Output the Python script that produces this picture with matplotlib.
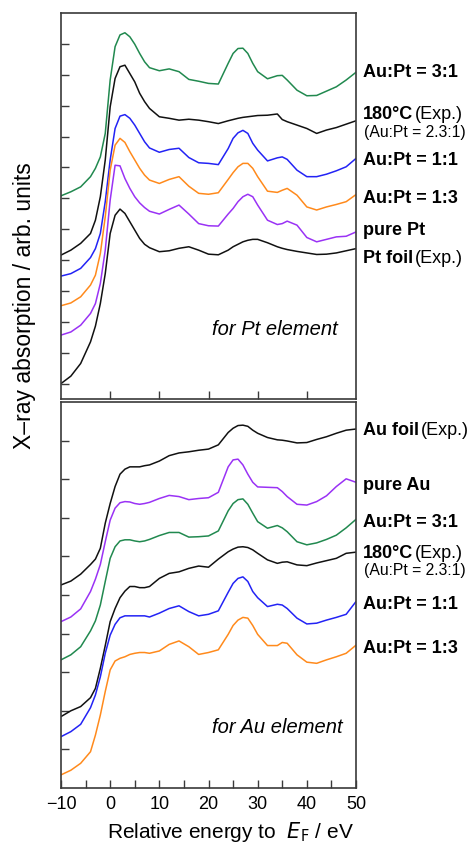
import matplotlib
matplotlib.use('Agg')
import matplotlib.pyplot as plt
from matplotlib.text import Annotation
from matplotlib.ticker import MultipleLocator, NullFormatter

plt.rcParams['font.family'] = ['Liberation Sans', 'DejaVu Sans']
plt.rcParams['axes.unicode_minus'] = True

# relative energy (eV), shared by every spectrum
energy = [-10, -8, -6, -4, -3, -2, -1, 0, 1, 2, 3, 4, 5, 6, 7, 8, 10, 12, 14, 16, 18,
          20, 22, 24, 25, 26, 27, 28, 29, 30, 32, 34, 35, 36, 38, 40, 42, 44, 46, 48, 50]

# Pt element (offset stacked, arb. units)
pt_31 = [6.08, 6.21, 6.37, 6.70, 6.97, 7.34, 8.10, 9.83, 10.91, 11.29, 11.36, 11.23, 10.99, 10.69,
         10.42, 10.23, 10.13, 10.19, 10.10, 9.85, 9.79, 9.72, 9.70, 10.37, 10.69, 10.85, 10.86,
         10.69, 10.37, 10.10, 9.87, 9.97, 9.98, 9.83, 9.50, 9.32, 9.33, 9.47, 9.61, 9.83, 10.08]
pt_exp = [4.16, 4.32, 4.54, 4.86, 5.29, 6.05, 7.24, 8.96, 9.88, 10.26, 10.31, 10.04, 9.77, 9.40,
          9.13, 8.91, 8.64, 8.59, 8.53, 8.56, 8.53, 8.48, 8.42, 8.51, 8.55, 8.59, 8.62, 8.64,
          8.66, 8.68, 8.69, 8.73, 8.55, 8.48, 8.37, 8.26, 8.10, 8.21, 8.29, 8.40, 8.51]
pt_11 = [3.48, 3.56, 3.73, 4.08, 4.37, 4.86, 5.89, 7.24, 8.26, 8.66, 8.71, 8.59, 8.37, 8.10, 7.83,
         7.63, 7.49, 7.58, 7.62, 7.32, 7.15, 7.13, 7.09, 7.61, 7.94, 8.12, 8.20, 8.10, 7.78, 7.56,
         7.21, 7.31, 7.34, 7.26, 6.91, 6.70, 6.70, 6.78, 6.89, 7.02, 7.29]
pt_13 = [2.52, 2.61, 2.81, 3.19, 3.51, 4.21, 5.40, 6.91, 7.72, 7.94, 7.81, 7.51, 7.24, 6.97, 6.75,
         6.59, 6.48, 6.61, 6.70, 6.39, 6.16, 6.13, 6.18, 6.61, 6.83, 7.02, 7.13, 7.13, 6.97, 6.70,
         6.23, 6.19, 6.26, 6.32, 6.10, 5.72, 5.62, 5.72, 5.80, 5.89, 6.12]
pt_pure = [1.57, 1.67, 1.89, 2.27, 2.59, 3.24, 4.32, 5.94, 7.07, 7.05, 6.64, 6.32, 6.05, 5.85, 5.70,
           5.58, 5.49, 5.64, 5.78, 5.49, 5.18, 5.11, 5.10, 5.49, 5.67, 5.89, 6.05, 6.13, 6.05, 5.78,
           5.29, 5.15, 5.18, 5.26, 5.13, 4.73, 4.59, 4.67, 4.75, 4.77, 4.91]
pt_foil = [0.00, 0.24, 0.65, 1.35, 1.86, 2.59, 3.56, 4.86, 5.45, 5.65, 5.51, 5.24, 4.97, 4.70, 4.51,
           4.40, 4.27, 4.30, 4.38, 4.43, 4.32, 4.19, 4.17, 4.32, 4.43, 4.51, 4.59, 4.64, 4.67, 4.67,
           4.56, 4.43, 4.38, 4.34, 4.28, 4.23, 4.18, 4.19, 4.23, 4.30, 4.37]

# Au element
au_foil = [5.26, 5.36, 5.54, 5.79, 5.93, 6.21, 6.86, 7.37, 7.81, 8.13, 8.26, 8.32, 8.32, 8.32, 8.35,
           8.37, 8.47, 8.61, 8.68, 8.71, 8.75, 8.78, 8.89, 9.21, 9.32, 9.39, 9.40, 9.37, 9.27, 9.19,
           9.08, 9.02, 9.01, 8.99, 8.94, 8.95, 9.03, 9.10, 9.19, 9.27, 9.30]
au_pure = [4.31, 4.43, 4.64, 5.09, 5.41, 5.79, 6.38, 6.94, 7.25, 7.39, 7.42, 7.41, 7.37, 7.35, 7.37,
           7.40, 7.50, 7.58, 7.55, 7.47, 7.50, 7.52, 7.66, 8.32, 8.50, 8.52, 8.37, 8.13, 7.92, 7.80,
           7.79, 7.78, 7.68, 7.55, 7.35, 7.33, 7.42, 7.57, 7.81, 8.01, 7.92]
au_31 = [3.32, 3.45, 3.66, 4.07, 4.33, 4.74, 5.35, 5.95, 6.25, 6.40, 6.43, 6.43, 6.40, 6.38, 6.40,
         6.44, 6.54, 6.62, 6.62, 6.50, 6.51, 6.53, 6.66, 7.18, 7.37, 7.47, 7.49, 7.35, 7.12, 6.90,
         6.73, 6.80, 6.74, 6.64, 6.38, 6.30, 6.35, 6.44, 6.55, 6.74, 6.96]
au_exp = [1.85, 2.00, 2.11, 2.34, 2.58, 3.10, 3.69, 4.31, 4.65, 4.93, 5.10, 5.22, 5.22, 5.19, 5.19,
          5.22, 5.43, 5.56, 5.60, 5.69, 5.75, 5.72, 5.93, 6.12, 6.19, 6.24, 6.25, 6.23, 6.17, 6.08,
          5.91, 5.82, 5.85, 5.86, 5.78, 5.76, 5.83, 5.89, 5.95, 6.08, 6.11]
au_11 = [1.33, 1.46, 1.65, 2.08, 2.41, 2.88, 3.49, 3.96, 4.24, 4.41, 4.46, 4.46, 4.46, 4.46, 4.46,
         4.43, 4.53, 4.65, 4.72, 4.57, 4.46, 4.50, 4.59, 5.07, 5.30, 5.43, 5.47, 5.35, 5.09, 4.93,
         4.70, 4.76, 4.74, 4.65, 4.40, 4.25, 4.27, 4.35, 4.42, 4.50, 4.83]
au_13 = [0.34, 0.46, 0.64, 0.94, 1.37, 1.89, 2.50, 3.06, 3.29, 3.36, 3.40, 3.46, 3.49, 3.51, 3.51,
         3.49, 3.55, 3.72, 3.81, 3.66, 3.46, 3.51, 3.58, 3.98, 4.21, 4.35, 4.42, 4.40, 4.21, 3.98,
         3.69, 3.69, 3.77, 3.75, 3.45, 3.26, 3.23, 3.32, 3.40, 3.49, 3.70]

GREEN = '#21894f'
BLUE = '#2323f5'
ORANGE = '#ff8a1c'
PURPLE = '#9a32f5'
BLACK = '#111111'
FRAME = '#3a3a3a'

W, H = 470, 844


def fx(px):
    return px / W


def fy(py):
    return 1 - py / H


def setup_axes(ax, ylim, yticks, bottom=False):
    ax.set_xlim(-10, 50)
    ax.set_ylim(*ylim)
    ax.set_yticks(yticks)
    ax.yaxis.set_major_formatter(NullFormatter())
    ax.xaxis.set_major_locator(MultipleLocator(10))
    for s in ax.spines.values():
        s.set_color(FRAME)
        s.set_linewidth(1.2)
    ax.tick_params(direction='in', length=5.5, width=1.0, color=FRAME,
                   top=False, right=False, labelsize=13, pad=6)
    if bottom:
        ax.xaxis.set_minor_locator(MultipleLocator(5))
        ax.tick_params(axis='x', which='minor', direction='in', length=5.5, width=1.0,
                       color=FRAME, top=False)
    else:
        ax.tick_params(axis='x', labelbottom=False)
        ax.set_xticks([0, 10, 20, 30, 40])


def add_label(fig, y, bold, normal=None, sub=None):
    t = fig.text(fx(363), fy(y), bold, fontsize=13, fontweight='bold', va='baseline', ha='left')
    if normal:
        fig.add_artist(Annotation(normal, xy=(1, 0), xycoords=t, xytext=(1.5, 0),
                                  textcoords='offset points', fontsize=13, va='bottom',
                                  ha='left'))
    if sub:
        fig.text(fx(364), fy(y + 17.5), sub, fontsize=11.3, va='baseline', ha='left')


fig = plt.figure(figsize=(W / 100, H / 100), dpi=100)
ax1 = fig.add_axes([fx(61), fy(399), fx(295), 386 / H])
ax2 = fig.add_axes([fx(61), fy(788), fx(295), 386 / H])

lw = 1.1
ax1.plot(energy, pt_31, color=GREEN, lw=lw)
ax1.plot(energy, pt_exp, color=BLACK, lw=lw)
ax1.plot(energy, pt_11, color=BLUE, lw=lw)
ax1.plot(energy, pt_13, color=ORANGE, lw=lw)
ax1.plot(energy, pt_pure, color=PURPLE, lw=lw)
ax1.plot(energy, pt_foil, color=BLACK, lw=lw)
setup_axes(ax1, (-0.5, 12.0), range(0, 12))

ax2.plot(energy, au_foil, color=BLACK, lw=lw)
ax2.plot(energy, au_pure, color=PURPLE, lw=lw)
ax2.plot(energy, au_31, color=GREEN, lw=lw)
ax2.plot(energy, au_exp, color=BLACK, lw=lw)
ax2.plot(energy, au_11, color=BLUE, lw=lw)
ax2.plot(energy, au_13, color=ORANGE, lw=lw)
setup_axes(ax2, (0, 10), range(1, 10), bottom=True)

fig.text(fx(230), fy(838), 'Relative energy to  $\\mathit{E}_{\\mathrm{F}}$ / eV', fontsize=15,
         ha='center', va='baseline')

ax1.text(0.725, 0.166, 'for Pt element', transform=ax1.transAxes, fontsize=14.5,
         style='italic', ha='center', va='baseline')
ax2.text(0.734, 0.142, 'for Au element', transform=ax2.transAxes, fontsize=14.5,
         style='italic', ha='center', va='baseline')

fig.text(fx(25), fy(306), 'X\u2013ray absorption / arb. units', rotation=90,
         fontsize=16.5, ha='center', va='center')

# right-hand labels, top panel
add_label(fig, 77, 'Au:Pt = 3:1')
add_label(fig, 119, '180\u00b0C', '(Exp.)', '(Au:Pt = 2.3:1)')
add_label(fig, 165, 'Au:Pt = 1:1')
add_label(fig, 203, 'Au:Pt = 1:3')
add_label(fig, 235, 'pure Pt')
add_label(fig, 263, 'Pt foil', '(Exp.)')

# bottom panel
add_label(fig, 435, 'Au foil', '(Exp.)')
add_label(fig, 490, 'pure Au')
add_label(fig, 527, 'Au:Pt = 3:1')
add_label(fig, 558, '180\u00b0C', '(Exp.)', '(Au:Pt = 2.3:1)')
add_label(fig, 609, 'Au:Pt = 1:1')
add_label(fig, 653, 'Au:Pt = 1:3')

fig.savefig('out.png', dpi=100)
